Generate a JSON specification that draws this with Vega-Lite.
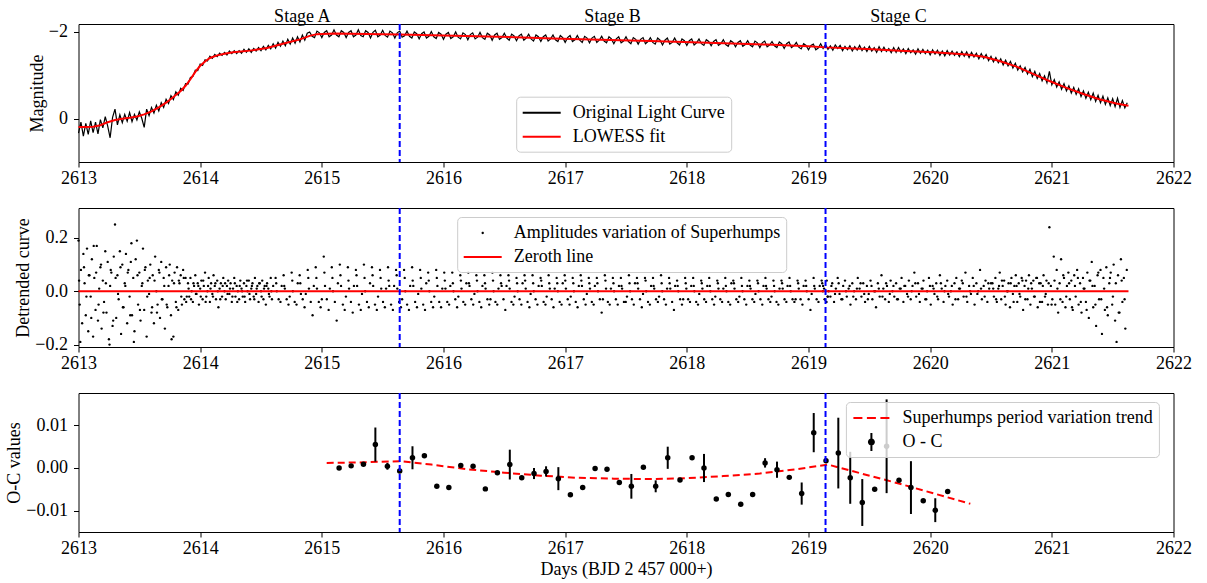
{
  "$schema": "https://vega.github.io/schema/vega-lite/v6.json",
  "background": "white",
  "padding": {"left": 4.5, "top": 7, "right": 5, "bottom": 5},
  "bounds": "flush",
  "spacing": 46,
  "config": {
    "font": "Liberation Serif",
    "view": {"stroke": "black", "strokeWidth": 1},
    "axis": {"grid": false, "domain": false, "tickColor": "black", "tickSize": 5, "tickWidth": 1,
      "labelFont": "Liberation Serif", "labelFontSize": 18, "labelColor": "black",
      "titleFont": "Liberation Serif", "titleFontSize": 18, "titleFontWeight": "normal", "titleColor": "black",
      "labelFlush": false, "labelOverlap": false, "labelBound": false},
    "axisX": {"labelPadding": 2, "titlePadding": 3},
    "axisY": {"labelPadding": 6, "titlePadding": 2},
    "legend": {"orient": "none", "title": null, "symbolSize": 400, "symbolStrokeWidth": 0, "padding": 6, "rowPadding": 5,
      "symbolOffset": 9.5, "labelOffset": 21, "fillColor": "rgba(255,255,255,0.8)", "strokeColor": "#cccccc",
      "cornerRadius": 4, "labelFont": "Liberation Serif", "labelFontSize": 18, "labelColor": "black", "labelLimit": 400}
  },
  "resolve": {
    "scale": {"x": "independent", "y": "independent", "color": "independent", "shape": "independent"},
    "legend": {"color": "independent", "shape": "independent"}
  },
  "datasets": {
    "stages": [{"t": 2615.64}, {"t": 2619.14}],
    "stageLabels": [{"stage": "Stage A", "t": 2614.84}, {"stage": "Stage B", "t": 2617.39}, {"stage": "Stage C", "t": 2619.74}],
    "zero": [{"t0": 2613, "t1": 2621.63, "d": 0}],
    "fit": [
      {"t":2613.00,"m":0.19},{"t":2613.06,"m":0.19},{"t":2613.12,"m":0.185},{"t":2613.18,"m":0.15},{"t":2613.24,"m":0.08},
      {"t":2613.30,"m":0.03},{"t":2613.36,"m":0.0},{"t":2613.42,"m":-0.02},{"t":2613.48,"m":-0.05},{"t":2613.54,"m":-0.10},
      {"t":2613.60,"m":-0.17},{"t":2613.66,"m":-0.26},{"t":2613.72,"m":-0.37},{"t":2613.78,"m":-0.50},{"t":2613.84,"m":-0.64},
      {"t":2613.88,"m":-0.76},{"t":2613.92,"m":-0.91},{"t":2613.96,"m":-1.08},{"t":2614.00,"m":-1.22},{"t":2614.04,"m":-1.32},
      {"t":2614.08,"m":-1.40},{"t":2614.14,"m":-1.46},{"t":2614.20,"m":-1.50},{"t":2614.27,"m":-1.53},{"t":2614.41,"m":-1.57},
      {"t":2614.55,"m":-1.63},{"t":2614.68,"m":-1.73},{"t":2614.82,"m":-1.83},{"t":2614.90,"m":-1.91},{"t":2614.96,"m":-1.95},
      {"t":2615.10,"m":-1.965},{"t":2615.37,"m":-1.955},{"t":2615.64,"m":-1.94},{"t":2616.00,"m":-1.92},{"t":2616.46,"m":-1.89},
      {"t":2616.90,"m":-1.85},{"t":2617.29,"m":-1.82},{"t":2617.70,"m":-1.79},{"t":2618.11,"m":-1.76},{"t":2618.66,"m":-1.71},
      {"t":2619.00,"m":-1.67},{"t":2619.14,"m":-1.645},{"t":2619.48,"m":-1.61},{"t":2619.75,"m":-1.57},{"t":2620.03,"m":-1.53},
      {"t":2620.30,"m":-1.48},{"t":2620.44,"m":-1.43},{"t":2620.57,"m":-1.33},{"t":2620.71,"m":-1.20},{"t":2620.85,"m":-1.03},
      {"t":2620.98,"m":-0.87},{"t":2621.12,"m":-0.71},{"t":2621.26,"m":-0.57},{"t":2621.39,"m":-0.45},{"t":2621.53,"m":-0.35},
      {"t":2621.63,"m":-0.30}
    ],
    "lc": [
      {"t":2613.00,"m":0.33},{"t":2613.02,"m":0.08},{"t":2613.04,"m":0.40},{"t":2613.06,"m":0.11},{"t":2613.08,"m":0.36},
      {"t":2613.10,"m":0.05},{"t":2613.12,"m":0.32},{"t":2613.14,"m":0.08},{"t":2613.16,"m":0.35},{"t":2613.18,"m":0.02},
      {"t":2613.20,"m":0.21},{"t":2613.22,"m":-0.05},{"t":2613.24,"m":0.17},{"t":2613.26,"m":0.44},{"t":2613.28,"m":-0.03},
      {"t":2613.30,"m":-0.22},{"t":2613.32,"m":0.14},{"t":2613.34,"m":-0.09},{"t":2613.36,"m":0.09},{"t":2613.38,"m":-0.10},
      {"t":2613.40,"m":0.06},{"t":2613.42,"m":-0.14},{"t":2613.44,"m":0.07},{"t":2613.46,"m":-0.10},{"t":2613.48,"m":0.03},
      {"t":2613.50,"m":-0.16},{"t":2613.52,"m":-0.01},{"t":2613.54,"m":0.20},{"t":2613.56,"m":-0.22},{"t":2613.58,"m":-0.07},
      {"t":2613.60,"m":-0.26},{"t":2613.62,"m":-0.13},{"t":2613.64,"m":-0.31},{"t":2613.66,"m":-0.18},{"t":2613.68,"m":-0.37},
      {"t":2613.70,"m":-0.26},{"t":2613.72,"m":-0.45},{"t":2613.74,"m":-0.35},{"t":2613.76,"m":-0.53},{"t":2613.78,"m":-0.44},
      {"t":2613.80,"m":-0.62},{"t":2613.82,"m":-0.54},{"t":2613.84,"m":-0.70},{"t":2613.86,"m":-0.65},{"t":2613.88,"m":-0.81},
      {"t":2613.90,"m":-0.80},{"t":2613.92,"m":-0.95},{"t":2613.94,"m":-0.97},{"t":2613.96,"m":-1.12},{"t":2613.98,"m":-1.11},
      {"t":2614.00,"m":-1.26},{"t":2614.02,"m":-1.23},{"t":2614.04,"m":-1.36},{"t":2614.06,"m":-1.33},{"t":2614.08,"m":-1.44},
      {"t":2614.10,"m":-1.39},{"t":2614.12,"m":-1.48},{"t":2614.14,"m":-1.43},{"t":2614.16,"m":-1.51},{"t":2614.18,"m":-1.46},
      {"t":2614.20,"m":-1.53},{"t":2614.22,"m":-1.47},{"t":2614.24,"m":-1.56},{"t":2614.26,"m":-1.50},{"t":2614.28,"m":-1.57},
      {"t":2614.30,"m":-1.50},{"t":2614.32,"m":-1.57},{"t":2614.34,"m":-1.51},{"t":2614.36,"m":-1.60},{"t":2614.38,"m":-1.53},
      {"t":2614.40,"m":-1.61},{"t":2614.42,"m":-1.53},{"t":2614.44,"m":-1.62},{"t":2614.46,"m":-1.56},{"t":2614.48,"m":-1.64},
      {"t":2614.50,"m":-1.57},{"t":2614.52,"m":-1.67},{"t":2614.54,"m":-1.59},{"t":2614.56,"m":-1.69},{"t":2614.58,"m":-1.61},
      {"t":2614.60,"m":-1.73},{"t":2614.62,"m":-1.63},{"t":2614.64,"m":-1.76},{"t":2614.66,"m":-1.67},{"t":2614.68,"m":-1.79},
      {"t":2614.70,"m":-1.68},{"t":2614.72,"m":-1.83},{"t":2614.74,"m":-1.72},{"t":2614.76,"m":-1.86},{"t":2614.78,"m":-1.74},
      {"t":2614.80,"m":-1.89},{"t":2614.82,"m":-1.77},{"t":2614.84,"m":-1.93},{"t":2614.86,"m":-1.81},{"t":2614.88,"m":-1.97},
      {"t":2614.90,"m":-2.00},{"t":2614.92,"m":-1.90},{"t":2614.94,"m":-1.87},{"t":2614.96,"m":-2.02},{"t":2614.98,"m":-1.98},
      {"t":2615.00,"m":-1.87},{"t":2615.02,"m":-1.99},{"t":2615.04,"m":-2.03},{"t":2615.06,"m":-1.89},{"t":2615.08,"m":-1.93},
      {"t":2615.10,"m":-2.05},{"t":2615.12,"m":-1.93},{"t":2615.14,"m":-1.89},{"t":2615.16,"m":-2.03},{"t":2615.18,"m":-1.99},
      {"t":2615.20,"m":-1.87},{"t":2615.22,"m":-1.99},{"t":2615.24,"m":-2.03},{"t":2615.26,"m":-1.89},{"t":2615.28,"m":-1.93},
      {"t":2615.30,"m":-2.05},{"t":2615.32,"m":-1.92},{"t":2615.34,"m":-1.89},{"t":2615.36,"m":-2.03},{"t":2615.38,"m":-1.99},
      {"t":2615.40,"m":-1.86},{"t":2615.42,"m":-1.99},{"t":2615.44,"m":-2.04},{"t":2615.46,"m":-1.89},{"t":2615.48,"m":-1.93},
      {"t":2615.50,"m":-2.04},{"t":2615.52,"m":-1.92},{"t":2615.54,"m":-1.88},{"t":2615.56,"m":-2.02},{"t":2615.58,"m":-1.98},
      {"t":2615.60,"m":-1.86},{"t":2615.62,"m":-1.98},{"t":2615.64,"m":-2.02},{"t":2615.66,"m":-1.88},{"t":2615.68,"m":-1.91},
      {"t":2615.70,"m":-2.02},{"t":2615.72,"m":-1.90},{"t":2615.74,"m":-1.86},{"t":2615.76,"m":-2.00},{"t":2615.78,"m":-1.96},
      {"t":2615.80,"m":-1.84},{"t":2615.82,"m":-1.96},{"t":2615.84,"m":-2.00},{"t":2615.86,"m":-1.86},{"t":2615.88,"m":-1.90},
      {"t":2615.90,"m":-2.01},{"t":2615.92,"m":-1.89},{"t":2615.94,"m":-1.85},{"t":2615.96,"m":-1.99},{"t":2615.98,"m":-1.95},
      {"t":2616.00,"m":-1.83},{"t":2616.02,"m":-1.95},{"t":2616.04,"m":-1.99},{"t":2616.06,"m":-1.85},{"t":2616.08,"m":-1.89},
      {"t":2616.10,"m":-2.00},{"t":2616.12,"m":-1.88},{"t":2616.14,"m":-1.84},{"t":2616.16,"m":-1.98},{"t":2616.18,"m":-1.94},
      {"t":2616.20,"m":-1.82},{"t":2616.22,"m":-1.94},{"t":2616.24,"m":-1.98},{"t":2616.26,"m":-1.84},{"t":2616.28,"m":-1.88},
      {"t":2616.30,"m":-1.99},{"t":2616.32,"m":-1.87},{"t":2616.34,"m":-1.83},{"t":2616.36,"m":-1.97},{"t":2616.38,"m":-1.93},
      {"t":2616.40,"m":-1.81},{"t":2616.42,"m":-1.93},{"t":2616.44,"m":-1.97},{"t":2616.46,"m":-1.83},{"t":2616.48,"m":-1.87},
      {"t":2616.50,"m":-1.97},{"t":2616.52,"m":-1.86},{"t":2616.54,"m":-1.81},{"t":2616.56,"m":-1.95},{"t":2616.58,"m":-1.91},
      {"t":2616.60,"m":-1.80},{"t":2616.62,"m":-1.91},{"t":2616.64,"m":-1.95},{"t":2616.66,"m":-1.81},{"t":2616.68,"m":-1.86},
      {"t":2616.70,"m":-1.95},{"t":2616.72,"m":-1.84},{"t":2616.74,"m":-1.79},{"t":2616.76,"m":-1.93},{"t":2616.78,"m":-1.89},
      {"t":2616.80,"m":-1.78},{"t":2616.82,"m":-1.89},{"t":2616.84,"m":-1.93},{"t":2616.86,"m":-1.79},{"t":2616.88,"m":-1.84},
      {"t":2616.90,"m":-1.93},{"t":2616.92,"m":-1.82},{"t":2616.94,"m":-1.78},{"t":2616.96,"m":-1.92},{"t":2616.98,"m":-1.87},
      {"t":2617.00,"m":-1.76},{"t":2617.02,"m":-1.87},{"t":2617.04,"m":-1.92},{"t":2617.06,"m":-1.78},{"t":2617.08,"m":-1.82},
      {"t":2617.10,"m":-1.92},{"t":2617.12,"m":-1.81},{"t":2617.14,"m":-1.76},{"t":2617.16,"m":-1.90},{"t":2617.18,"m":-1.86},
      {"t":2617.20,"m":-1.75},{"t":2617.22,"m":-1.86},{"t":2617.24,"m":-1.90},{"t":2617.26,"m":-1.76},{"t":2617.28,"m":-1.81},
      {"t":2617.30,"m":-1.90},{"t":2617.32,"m":-1.79},{"t":2617.34,"m":-1.75},{"t":2617.36,"m":-1.89},{"t":2617.38,"m":-1.84},
      {"t":2617.40,"m":-1.73},{"t":2617.42,"m":-1.84},{"t":2617.44,"m":-1.89},{"t":2617.46,"m":-1.75},{"t":2617.48,"m":-1.79},
      {"t":2617.50,"m":-1.89},{"t":2617.52,"m":-1.78},{"t":2617.54,"m":-1.73},{"t":2617.56,"m":-1.87},{"t":2617.58,"m":-1.83},
      {"t":2617.60,"m":-1.72},{"t":2617.62,"m":-1.83},{"t":2617.64,"m":-1.87},{"t":2617.66,"m":-1.73},{"t":2617.68,"m":-1.78},
      {"t":2617.70,"m":-1.87},{"t":2617.72,"m":-1.76},{"t":2617.74,"m":-1.72},{"t":2617.76,"m":-1.86},{"t":2617.78,"m":-1.81},
      {"t":2617.80,"m":-1.70},{"t":2617.82,"m":-1.81},{"t":2617.84,"m":-1.86},{"t":2617.86,"m":-1.72},{"t":2617.88,"m":-1.76},
      {"t":2617.90,"m":-1.86},{"t":2617.92,"m":-1.75},{"t":2617.94,"m":-1.70},{"t":2617.96,"m":-1.84},{"t":2617.98,"m":-1.80},
      {"t":2618.00,"m":-1.69},{"t":2618.02,"m":-1.80},{"t":2618.04,"m":-1.84},{"t":2618.06,"m":-1.70},{"t":2618.08,"m":-1.75},
      {"t":2618.10,"m":-1.84},{"t":2618.12,"m":-1.73},{"t":2618.14,"m":-1.69},{"t":2618.16,"m":-1.82},{"t":2618.18,"m":-1.78},
      {"t":2618.20,"m":-1.68},{"t":2618.22,"m":-1.78},{"t":2618.24,"m":-1.82},{"t":2618.26,"m":-1.69},{"t":2618.28,"m":-1.73},
      {"t":2618.30,"m":-1.82},{"t":2618.32,"m":-1.71},{"t":2618.34,"m":-1.67},{"t":2618.36,"m":-1.80},{"t":2618.38,"m":-1.76},
      {"t":2618.40,"m":-1.66},{"t":2618.42,"m":-1.76},{"t":2618.44,"m":-1.80},{"t":2618.46,"m":-1.67},{"t":2618.48,"m":-1.71},
      {"t":2618.50,"m":-1.80},{"t":2618.52,"m":-1.70},{"t":2618.54,"m":-1.66},{"t":2618.56,"m":-1.79},{"t":2618.58,"m":-1.75},
      {"t":2618.60,"m":-1.64},{"t":2618.62,"m":-1.75},{"t":2618.64,"m":-1.79},{"t":2618.66,"m":-1.66},{"t":2618.68,"m":-1.70},
      {"t":2618.70,"m":-1.78},{"t":2618.72,"m":-1.68},{"t":2618.74,"m":-1.64},{"t":2618.76,"m":-1.77},{"t":2618.78,"m":-1.73},
      {"t":2618.80,"m":-1.62},{"t":2618.82,"m":-1.73},{"t":2618.84,"m":-1.77},{"t":2618.86,"m":-1.64},{"t":2618.88,"m":-1.68},
      {"t":2618.90,"m":-1.76},{"t":2618.92,"m":-1.65},{"t":2618.94,"m":-1.61},{"t":2618.96,"m":-1.73},{"t":2618.98,"m":-1.69},
      {"t":2619.00,"m":-1.59},{"t":2619.02,"m":-1.69},{"t":2619.04,"m":-1.72},{"t":2619.06,"m":-1.59},{"t":2619.08,"m":-1.63},
      {"t":2619.10,"m":-1.73},{"t":2619.12,"m":-1.62},{"t":2619.14,"m":-1.71},{"t":2619.16,"m":-1.60},{"t":2619.18,"m":-1.68},
      {"t":2619.20,"m":-1.58},{"t":2619.22,"m":-1.70},{"t":2619.24,"m":-1.62},{"t":2619.26,"m":-1.69},{"t":2619.28,"m":-1.57},
      {"t":2619.30,"m":-1.67},{"t":2619.32,"m":-1.59},{"t":2619.34,"m":-1.68},{"t":2619.36,"m":-1.56},{"t":2619.38,"m":-1.66},
      {"t":2619.40,"m":-1.58},{"t":2619.42,"m":-1.69},{"t":2619.44,"m":-1.57},{"t":2619.46,"m":-1.65},{"t":2619.48,"m":-1.55},
      {"t":2619.50,"m":-1.67},{"t":2619.52,"m":-1.56},{"t":2619.54,"m":-1.64},{"t":2619.56,"m":-1.53},{"t":2619.58,"m":-1.66},
      {"t":2619.60,"m":-1.55},{"t":2619.62,"m":-1.65},{"t":2619.64,"m":-1.55},{"t":2619.66,"m":-1.62},{"t":2619.68,"m":-1.52},
      {"t":2619.70,"m":-1.64},{"t":2619.72,"m":-1.53},{"t":2619.74,"m":-1.64},{"t":2619.76,"m":-1.53},{"t":2619.78,"m":-1.61},
      {"t":2619.80,"m":-1.50},{"t":2619.82,"m":-1.62},{"t":2619.84,"m":-1.52},{"t":2619.86,"m":-1.59},{"t":2619.88,"m":-1.49},
      {"t":2619.90,"m":-1.61},{"t":2619.92,"m":-1.51},{"t":2619.94,"m":-1.60},{"t":2619.96,"m":-1.50},{"t":2619.98,"m":-1.58},
      {"t":2620.00,"m":-1.47},{"t":2620.02,"m":-1.59},{"t":2620.04,"m":-1.49},{"t":2620.06,"m":-1.58},{"t":2620.08,"m":-1.46},
      {"t":2620.10,"m":-1.56},{"t":2620.12,"m":-1.45},{"t":2620.14,"m":-1.57},{"t":2620.16,"m":-1.47},{"t":2620.18,"m":-1.56},
      {"t":2620.20,"m":-1.46},{"t":2620.22,"m":-1.54},{"t":2620.24,"m":-1.43},{"t":2620.26,"m":-1.55},{"t":2620.28,"m":-1.44},
      {"t":2620.30,"m":-1.54},{"t":2620.32,"m":-1.41},{"t":2620.34,"m":-1.53},{"t":2620.36,"m":-1.42},{"t":2620.38,"m":-1.51},
      {"t":2620.40,"m":-1.38},{"t":2620.42,"m":-1.50},{"t":2620.44,"m":-1.39},{"t":2620.46,"m":-1.48},{"t":2620.48,"m":-1.34},
      {"t":2620.50,"m":-1.44},{"t":2620.52,"m":-1.31},{"t":2620.54,"m":-1.41},{"t":2620.56,"m":-1.29},{"t":2620.58,"m":-1.38},
      {"t":2620.60,"m":-1.24},{"t":2620.62,"m":-1.35},{"t":2620.64,"m":-1.22},{"t":2620.66,"m":-1.32},{"t":2620.68,"m":-1.17},
      {"t":2620.70,"m":-1.28},{"t":2620.72,"m":-1.12},{"t":2620.74,"m":-1.22},{"t":2620.76,"m":-1.08},{"t":2620.78,"m":-1.18},
      {"t":2620.80,"m":-1.03},{"t":2620.82,"m":-1.14},{"t":2620.84,"m":-0.97},{"t":2620.86,"m":-1.09},{"t":2620.88,"m":-0.93},
      {"t":2620.90,"m":-1.04},{"t":2620.92,"m":-0.87},{"t":2620.94,"m":-0.99},{"t":2620.96,"m":-0.83},{"t":2620.98,"m":-1.09},
      {"t":2621.00,"m":-0.78},{"t":2621.02,"m":-0.90},{"t":2621.04,"m":-0.73},{"t":2621.06,"m":-0.85},{"t":2621.08,"m":-0.68},
      {"t":2621.10,"m":-0.81},{"t":2621.12,"m":-0.64},{"t":2621.14,"m":-0.76},{"t":2621.16,"m":-0.59},{"t":2621.18,"m":-0.72},
      {"t":2621.20,"m":-0.56},{"t":2621.22,"m":-0.69},{"t":2621.24,"m":-0.51},{"t":2621.26,"m":-0.64},{"t":2621.28,"m":-0.47},
      {"t":2621.30,"m":-0.61},{"t":2621.32,"m":-0.44},{"t":2621.34,"m":-0.59},{"t":2621.36,"m":-0.40},{"t":2621.38,"m":-0.54},
      {"t":2621.40,"m":-0.37},{"t":2621.42,"m":-0.52},{"t":2621.44,"m":-0.33},{"t":2621.46,"m":-0.48},{"t":2621.48,"m":-0.30},
      {"t":2621.50,"m":-0.46},{"t":2621.52,"m":-0.28},{"t":2621.54,"m":-0.47},{"t":2621.56,"m":-0.26},{"t":2621.58,"m":-0.42},
      {"t":2621.60,"m":-0.25},{"t":2621.62,"m":-0.37}
    ],
    "det": [
      {"t":2613.00,"d":0.19},{"t":2613.01,"d":-0.05},{"t":2613.02,"d":0.08},{"t":2613.03,"d":-0.12},{"t":2613.04,"d":0.14},
      {"t":2613.05,"d":0.03},{"t":2613.06,"d":-0.09},{"t":2613.07,"d":0.16},{"t":2613.08,"d":-0.15},{"t":2613.09,"d":0.06},
      {"t":2613.10,"d":-0.02},{"t":2613.11,"d":0.12},{"t":2613.12,"d":-0.17},{"t":2613.13,"d":0.05},{"t":2613.14,"d":-0.07},
      {"t":2613.15,"d":0.17},{"t":2613.16,"d":-0.11},{"t":2613.17,"d":0.01},{"t":2613.18,"d":0.09},{"t":2613.19,"d":-0.14},
      {"t":2613.20,"d":0.04},{"t":2613.21,"d":-0.04},{"t":2613.22,"d":0.15},{"t":2613.23,"d":-0.08},{"t":2613.24,"d":0.11},
      {"t":2613.25,"d":-0.18},{"t":2613.26,"d":0.02},{"t":2613.27,"d":0.07},{"t":2613.28,"d":-0.13},{"t":2613.29,"d":0.13},
      {"t":2613.30,"d":0.25},{"t":2613.31,"d":-0.10},{"t":2613.32,"d":0.06},{"t":2613.33,"d":-0.03},{"t":2613.34,"d":0.15},
      {"t":2613.35,"d":-0.16},{"t":2613.36,"d":0.10},{"t":2613.37,"d":-0.06},{"t":2613.38,"d":0.03},{"t":2613.39,"d":0.14},
      {"t":2613.40,"d":-0.12},{"t":2613.41,"d":0.08},{"t":2613.42,"d":-0.02},{"t":2613.43,"d":0.11},{"t":2613.44,"d":-0.09},
      {"t":2613.45,"d":0.05},{"t":2613.46,"d":-0.15},{"t":2613.47,"d":0.12},{"t":2613.48,"d":0.19},{"t":2613.49,"d":-0.05},
      {"t":2613.50,"d":0.07},{"t":2613.51,"d":-0.11},{"t":2613.52,"d":0.02},{"t":2613.53,"d":0.16},{"t":2613.54,"d":-0.07},
      {"t":2613.55,"d":0.09},{"t":2613.56,"d":-0.17},{"t":2613.57,"d":0.04},{"t":2613.58,"d":-0.01},{"t":2613.59,"d":0.10},
      {"t":2613.60,"d":-0.08},{"t":2613.61,"d":0.06},{"t":2613.62,"d":-0.12},{"t":2613.63,"d":0.13},{"t":2613.64,"d":0.0},
      {"t":2613.65,"d":-0.05},{"t":2613.66,"d":0.08},{"t":2613.67,"d":-0.10},{"t":2613.68,"d":0.11},{"t":2613.69,"d":-0.03},
      {"t":2613.70,"d":0.05},{"t":2613.71,"d":-0.14},{"t":2613.72,"d":0.09},{"t":2613.73,"d":-0.06},{"t":2613.74,"d":0.02},
      {"t":2613.75,"d":0.10},{"t":2613.76,"d":-0.09},{"t":2613.77,"d":0.04},{"t":2613.78,"d":-0.17},{"t":2613.79,"d":0.07},
      {"t":2613.80,"d":-0.04},{"t":2613.81,"d":0.09},{"t":2613.82,"d":-0.07},{"t":2613.83,"d":0.03},{"t":2613.84,"d":0.06},
      {"t":2613.85,"d":-0.05},{"t":2613.86,"d":0.08},{"t":2613.87,"d":-0.03},{"t":2613.88,"d":0.05},{"t":2613.89,"d":-0.02},
      {"t":2613.005,"d":0.04},{"t":2613.015,"d":-0.19},{"t":2613.045,"d":0.09},{"t":2613.065,"d":-0.02},{"t":2613.085,"d":0.06},
      {"t":2613.105,"d":-0.10},{"t":2613.125,"d":0.17},{"t":2613.145,"d":0.07},{"t":2613.165,"d":-0.05},{"t":2613.185,"d":0.10},
      {"t":2613.205,"d":-0.08},{"t":2613.225,"d":0.03},{"t":2613.255,"d":-0.20},{"t":2613.265,"d":0.08},{"t":2613.285,"d":-0.11},
      {"t":2613.305,"d":0.05},{"t":2613.325,"d":-0.01},{"t":2613.345,"d":0.09},{"t":2613.365,"d":-0.06},{"t":2613.385,"d":0.02},
      {"t":2613.405,"d":0.07},{"t":2613.425,"d":-0.09},{"t":2613.435,"d":0.18},{"t":2613.455,"d":-0.19},{"t":2613.485,"d":0.06},
      {"t":2613.505,"d":-0.07},{"t":2613.525,"d":0.03},{"t":2613.545,"d":0.08},{"t":2613.565,"d":-0.02},{"t":2613.585,"d":0.05},
      {"t":2613.605,"d":-0.06},{"t":2613.625,"d":0.04},{"t":2613.645,"d":-0.08},{"t":2613.665,"d":0.07},{"t":2613.685,"d":-0.03},
      {"t":2613.705,"d":0.02},{"t":2613.725,"d":-0.05},{"t":2613.745,"d":0.06},{"t":2613.765,"d":-0.18},{"t":2613.785,"d":0.03},
      {"t":2613.805,"d":-0.06},{"t":2613.825,"d":0.04},{"t":2613.845,"d":-0.02},{"t":2613.865,"d":0.05},{"t":2613.885,"d":-0.04},
      {"t":2613.90,"d":0.03},{"t":2613.91,"d":-0.02},{"t":2613.92,"d":0.05},{"t":2613.93,"d":0.0},{"t":2613.94,"d":-0.04},
      {"t":2613.95,"d":0.02},{"t":2613.96,"d":0.06},{"t":2613.97,"d":-0.01},{"t":2613.98,"d":0.03},{"t":2613.99,"d":-0.05},
      {"t":2614.00,"d":0.01},{"t":2614.01,"d":0.04},{"t":2614.02,"d":-0.03},{"t":2614.03,"d":0.02},{"t":2614.04,"d":0.07},
      {"t":2614.05,"d":-0.02},{"t":2614.06,"d":0.0},{"t":2614.07,"d":0.05},{"t":2614.08,"d":-0.04},{"t":2614.09,"d":0.03},
      {"t":2614.10,"d":-0.01},{"t":2614.11,"d":0.06},{"t":2614.12,"d":0.02},{"t":2614.13,"d":-0.03},{"t":2614.14,"d":0.04},
      {"t":2614.15,"d":-0.06},{"t":2614.16,"d":0.01},{"t":2614.17,"d":0.03},{"t":2614.18,"d":-0.02},{"t":2614.19,"d":0.05},
      {"t":2614.20,"d":0.0},{"t":2614.21,"d":-0.03},{"t":2614.22,"d":0.02},{"t":2614.23,"d":0.04},{"t":2614.24,"d":-0.01},
      {"t":2614.25,"d":0.03},{"t":2614.26,"d":-0.04},{"t":2614.27,"d":0.01},{"t":2614.28,"d":0.05},{"t":2614.29,"d":-0.02},
      {"t":2614.30,"d":0.02},{"t":2614.31,"d":0.0},{"t":2614.32,"d":-0.03},{"t":2614.33,"d":0.04},{"t":2614.34,"d":0.01},
      {"t":2614.35,"d":-0.02},{"t":2614.36,"d":0.03},{"t":2614.37,"d":-0.04},{"t":2614.38,"d":0.02},{"t":2614.39,"d":0.0},
      {"t":2614.40,"d":0.04},{"t":2614.41,"d":-0.03},{"t":2614.42,"d":0.01},{"t":2614.43,"d":0.03},{"t":2614.44,"d":-0.02},
      {"t":2614.45,"d":0.05},{"t":2614.46,"d":-0.01},{"t":2614.47,"d":0.02},{"t":2614.48,"d":-0.04},{"t":2614.49,"d":0.03},
      {"t":2614.50,"d":0.0},{"t":2614.51,"d":0.04},{"t":2614.52,"d":-0.03},{"t":2614.53,"d":0.02},{"t":2614.54,"d":-0.05},
      {"t":2614.55,"d":0.03},{"t":2614.56,"d":0.01},{"t":2614.57,"d":-0.02},{"t":2614.58,"d":0.05},{"t":2614.59,"d":-0.03},
      {"t":2614.60,"d":0.02},
      {"t":2613.905,"d":0.01},{"t":2613.925,"d":-0.03},{"t":2613.945,"d":0.03},{"t":2613.965,"d":-0.01},{"t":2613.985,"d":0.02},
      {"t":2614.005,"d":-0.02},{"t":2614.025,"d":0.04},{"t":2614.045,"d":-0.04},{"t":2614.065,"d":0.02},{"t":2614.085,"d":0.01},
      {"t":2614.105,"d":-0.02},{"t":2614.125,"d":0.03},{"t":2614.145,"d":0.0},{"t":2614.165,"d":-0.03},{"t":2614.185,"d":0.02},
      {"t":2614.205,"d":0.03},{"t":2614.225,"d":-0.01},{"t":2614.245,"d":0.01},{"t":2614.265,"d":-0.02},{"t":2614.285,"d":0.03},
      {"t":2614.305,"d":-0.04},{"t":2614.325,"d":0.02},{"t":2614.345,"d":0.0},{"t":2614.365,"d":-0.02},{"t":2614.385,"d":0.04},
      {"t":2614.405,"d":-0.01},{"t":2614.425,"d":0.02},{"t":2614.445,"d":-0.03},{"t":2614.465,"d":0.01},{"t":2614.485,"d":0.03},
      {"t":2614.505,"d":-0.02},{"t":2614.525,"d":0.01},{"t":2614.545,"d":0.02},{"t":2614.565,"d":-0.01},{"t":2614.585,"d":0.0},
      {"t":2614.62,"d":0.05},{"t":2614.625,"d":0.03},{"t":2614.63,"d":0.0},{"t":2614.645,"d":-0.03},{"t":2614.66,"d":-0.04},
      {"t":2614.686,"d":0.06},{"t":2614.691,"d":0.02},{"t":2614.696,"d":0.01},{"t":2614.711,"d":-0.03},{"t":2614.726,"d":-0.05},
      {"t":2614.752,"d":0.07},{"t":2614.757,"d":0.04},{"t":2614.762,"d":0.0},{"t":2614.777,"d":-0.04},{"t":2614.792,"d":-0.05},
      {"t":2614.818,"d":0.06},{"t":2614.823,"d":0.03},{"t":2614.828,"d":-0.01},{"t":2614.843,"d":-0.03},{"t":2614.858,"d":-0.06},
      {"t":2614.884,"d":0.08},{"t":2614.889,"d":0.05},{"t":2614.894,"d":0.01},{"t":2614.909,"d":-0.04},{"t":2614.924,"d":-0.09},
      {"t":2614.95,"d":0.09},{"t":2614.955,"d":0.05},{"t":2614.96,"d":0.01},{"t":2614.975,"d":-0.04},{"t":2614.99,"d":-0.06},
      {"t":2615.016,"d":0.13},{"t":2615.021,"d":0.07},{"t":2615.026,"d":0.02},{"t":2615.041,"d":-0.03},{"t":2615.056,"d":-0.07},
      {"t":2615.082,"d":0.09},{"t":2615.087,"d":0.05},{"t":2615.092,"d":0.0},{"t":2615.107,"d":-0.04},{"t":2615.122,"d":-0.11},
      {"t":2615.148,"d":0.10},{"t":2615.153,"d":0.06},{"t":2615.158,"d":0.02},{"t":2615.173,"d":-0.05},{"t":2615.188,"d":-0.07},
      {"t":2615.214,"d":0.09},{"t":2615.219,"d":0.04},{"t":2615.224,"d":0.01},{"t":2615.239,"d":-0.04},{"t":2615.254,"d":-0.08},
      {"t":2615.28,"d":0.08},{"t":2615.285,"d":0.06},{"t":2615.29,"d":0.02},{"t":2615.305,"d":-0.05},{"t":2615.32,"d":-0.07},
      {"t":2615.346,"d":0.10},{"t":2615.351,"d":0.05},{"t":2615.356,"d":0.0},{"t":2615.371,"d":-0.04},{"t":2615.386,"d":-0.06},
      {"t":2615.412,"d":0.09},{"t":2615.417,"d":0.06},{"t":2615.422,"d":0.02},{"t":2615.437,"d":-0.05},{"t":2615.452,"d":-0.07},
      {"t":2615.478,"d":0.08},{"t":2615.483,"d":0.05},{"t":2615.488,"d":0.01},{"t":2615.503,"d":-0.04},{"t":2615.518,"d":-0.06},
      {"t":2615.544,"d":0.09},{"t":2615.549,"d":0.04},{"t":2615.554,"d":0.02},{"t":2615.569,"d":-0.05},{"t":2615.584,"d":-0.07},
      {"t":2615.61,"d":0.08},{"t":2615.615,"d":0.06},{"t":2615.62,"d":0.01},{"t":2615.635,"d":-0.04},{"t":2615.65,"d":-0.06},
      {"t":2615.676,"d":0.08},{"t":2615.681,"d":0.05},{"t":2615.686,"d":0.0},{"t":2615.701,"d":-0.05},{"t":2615.716,"d":-0.07},
      {"t":2615.742,"d":0.09},{"t":2615.747,"d":0.04},{"t":2615.752,"d":0.02},{"t":2615.767,"d":-0.04},{"t":2615.782,"d":-0.06},
      {"t":2615.808,"d":0.08},{"t":2615.813,"d":0.05},{"t":2615.818,"d":0.01},{"t":2615.833,"d":-0.05},{"t":2615.848,"d":-0.07},
      {"t":2615.874,"d":0.07},{"t":2615.879,"d":0.04},{"t":2615.884,"d":0.0},{"t":2615.899,"d":-0.04},{"t":2615.914,"d":-0.06},
      {"t":2615.94,"d":0.08},{"t":2615.945,"d":0.05},{"t":2615.95,"d":0.02},{"t":2615.965,"d":-0.04},{"t":2615.98,"d":-0.06},
      {"t":2616.006,"d":0.07},{"t":2616.011,"d":0.04},{"t":2616.016,"d":0.01},{"t":2616.031,"d":-0.04},{"t":2616.046,"d":-0.05},
      {"t":2616.072,"d":0.07},{"t":2616.077,"d":0.03},{"t":2616.082,"d":0.0},{"t":2616.097,"d":-0.03},{"t":2616.112,"d":-0.06},
      {"t":2616.138,"d":0.06},{"t":2616.143,"d":0.04},{"t":2616.148,"d":0.01},{"t":2616.163,"d":-0.04},{"t":2616.178,"d":-0.05},
      {"t":2616.204,"d":0.07},{"t":2616.209,"d":0.03},{"t":2616.214,"d":0.02},{"t":2616.229,"d":-0.03},{"t":2616.244,"d":-0.05},
      {"t":2616.27,"d":0.06},{"t":2616.275,"d":0.04},{"t":2616.28,"d":0.0},{"t":2616.295,"d":-0.04},{"t":2616.31,"d":-0.06},
      {"t":2616.336,"d":0.06},{"t":2616.341,"d":0.03},{"t":2616.346,"d":0.01},{"t":2616.361,"d":-0.03},{"t":2616.376,"d":-0.05},
      {"t":2616.402,"d":0.07},{"t":2616.407,"d":0.04},{"t":2616.412,"d":0.0},{"t":2616.427,"d":-0.04},{"t":2616.442,"d":-0.05},
      {"t":2616.468,"d":0.06},{"t":2616.473,"d":0.03},{"t":2616.478,"d":0.02},{"t":2616.493,"d":-0.03},{"t":2616.508,"d":-0.07},
      {"t":2616.534,"d":0.06},{"t":2616.539,"d":0.04},{"t":2616.544,"d":0.01},{"t":2616.559,"d":-0.04},{"t":2616.574,"d":-0.05},
      {"t":2616.60,"d":0.05},{"t":2616.605,"d":0.03},{"t":2616.61,"d":0.0},{"t":2616.625,"d":-0.03},{"t":2616.64,"d":-0.05},
      {"t":2616.666,"d":0.06},{"t":2616.671,"d":0.04},{"t":2616.676,"d":0.01},{"t":2616.691,"d":-0.04},{"t":2616.706,"d":-0.06},
      {"t":2616.732,"d":0.06},{"t":2616.737,"d":0.03},{"t":2616.742,"d":0.0},{"t":2616.757,"d":-0.03},{"t":2616.772,"d":-0.05},
      {"t":2616.798,"d":0.05},{"t":2616.803,"d":0.04},{"t":2616.808,"d":0.02},{"t":2616.823,"d":-0.04},{"t":2616.838,"d":-0.05},
      {"t":2616.864,"d":0.06},{"t":2616.869,"d":0.03},{"t":2616.874,"d":0.01},{"t":2616.889,"d":-0.03},{"t":2616.904,"d":-0.06},
      {"t":2616.93,"d":0.05},{"t":2616.935,"d":0.03},{"t":2616.94,"d":0.0},{"t":2616.955,"d":-0.04},{"t":2616.97,"d":-0.05},
      {"t":2616.996,"d":0.06},{"t":2617.001,"d":0.04},{"t":2617.006,"d":0.01},{"t":2617.021,"d":-0.03},{"t":2617.036,"d":-0.05},
      {"t":2617.062,"d":0.05},{"t":2617.067,"d":0.03},{"t":2617.072,"d":0.0},{"t":2617.087,"d":-0.04},{"t":2617.102,"d":-0.06},
      {"t":2617.128,"d":0.06},{"t":2617.133,"d":0.04},{"t":2617.138,"d":0.02},{"t":2617.153,"d":-0.03},{"t":2617.168,"d":-0.05},
      {"t":2617.194,"d":0.05},{"t":2617.199,"d":0.03},{"t":2617.204,"d":0.01},{"t":2617.219,"d":-0.04},{"t":2617.234,"d":-0.05},
      {"t":2617.26,"d":0.05},{"t":2617.265,"d":0.03},{"t":2617.27,"d":0.0},{"t":2617.285,"d":-0.03},{"t":2617.30,"d":-0.08},
      {"t":2617.326,"d":0.06},{"t":2617.331,"d":0.04},{"t":2617.336,"d":0.01},{"t":2617.351,"d":-0.04},{"t":2617.366,"d":-0.05},
      {"t":2617.392,"d":0.05},{"t":2617.397,"d":0.03},{"t":2617.402,"d":0.0},{"t":2617.417,"d":-0.03},{"t":2617.432,"d":-0.05},
      {"t":2617.458,"d":0.05},{"t":2617.463,"d":0.02},{"t":2617.468,"d":0.01},{"t":2617.483,"d":-0.04},{"t":2617.498,"d":-0.04},
      {"t":2617.524,"d":0.06},{"t":2617.529,"d":0.03},{"t":2617.534,"d":0.0},{"t":2617.549,"d":-0.03},{"t":2617.564,"d":-0.05},
      {"t":2617.59,"d":0.05},{"t":2617.595,"d":0.03},{"t":2617.60,"d":0.01},{"t":2617.615,"d":-0.03},{"t":2617.63,"d":-0.06},
      {"t":2617.656,"d":0.05},{"t":2617.661,"d":0.04},{"t":2617.666,"d":0.0},{"t":2617.681,"d":-0.04},{"t":2617.696,"d":-0.05},
      {"t":2617.722,"d":0.05},{"t":2617.727,"d":0.02},{"t":2617.732,"d":0.01},{"t":2617.747,"d":-0.03},{"t":2617.762,"d":-0.04},
      {"t":2617.788,"d":0.06},{"t":2617.793,"d":0.03},{"t":2617.798,"d":0.0},{"t":2617.813,"d":-0.03},{"t":2617.828,"d":-0.05},
      {"t":2617.854,"d":0.05},{"t":2617.859,"d":0.03},{"t":2617.864,"d":0.01},{"t":2617.879,"d":-0.04},{"t":2617.894,"d":-0.07},
      {"t":2617.92,"d":0.04},{"t":2617.925,"d":0.02},{"t":2617.93,"d":0.0},{"t":2617.945,"d":-0.03},{"t":2617.96,"d":-0.05},
      {"t":2617.986,"d":0.05},{"t":2617.991,"d":0.03},{"t":2617.996,"d":0.01},{"t":2618.011,"d":-0.03},{"t":2618.026,"d":-0.04},
      {"t":2618.052,"d":0.05},{"t":2618.057,"d":0.02},{"t":2618.062,"d":0.0},{"t":2618.077,"d":-0.04},{"t":2618.092,"d":-0.05},
      {"t":2618.118,"d":0.04},{"t":2618.123,"d":0.03},{"t":2618.128,"d":0.01},{"t":2618.143,"d":-0.03},{"t":2618.158,"d":-0.04},
      {"t":2618.184,"d":0.05},{"t":2618.189,"d":0.02},{"t":2618.194,"d":0.0},{"t":2618.209,"d":-0.03},{"t":2618.224,"d":-0.05},
      {"t":2618.25,"d":0.04},{"t":2618.255,"d":0.03},{"t":2618.26,"d":0.01},{"t":2618.275,"d":-0.03},{"t":2618.29,"d":-0.04},
      {"t":2618.316,"d":0.05},{"t":2618.321,"d":0.02},{"t":2618.326,"d":0.0},{"t":2618.341,"d":-0.04},{"t":2618.356,"d":-0.05},
      {"t":2618.382,"d":0.04},{"t":2618.387,"d":0.03},{"t":2618.392,"d":0.01},{"t":2618.407,"d":-0.03},{"t":2618.422,"d":-0.04},
      {"t":2618.448,"d":0.05},{"t":2618.453,"d":0.02},{"t":2618.458,"d":0.0},{"t":2618.473,"d":-0.03},{"t":2618.488,"d":-0.05},
      {"t":2618.514,"d":0.04},{"t":2618.519,"d":0.02},{"t":2618.524,"d":0.01},{"t":2618.539,"d":-0.03},{"t":2618.554,"d":-0.04},
      {"t":2618.58,"d":0.04},{"t":2618.585,"d":0.03},{"t":2618.59,"d":0.0},{"t":2618.605,"d":-0.03},{"t":2618.62,"d":-0.05},
      {"t":2618.646,"d":0.05},{"t":2618.651,"d":0.02},{"t":2618.656,"d":0.01},{"t":2618.671,"d":-0.03},{"t":2618.686,"d":-0.04},
      {"t":2618.712,"d":0.04},{"t":2618.717,"d":0.02},{"t":2618.722,"d":0.0},{"t":2618.737,"d":-0.04},{"t":2618.752,"d":-0.05},
      {"t":2618.778,"d":0.04},{"t":2618.783,"d":0.03},{"t":2618.788,"d":0.01},{"t":2618.803,"d":-0.03},{"t":2618.818,"d":-0.04},
      {"t":2618.844,"d":0.05},{"t":2618.849,"d":0.02},{"t":2618.854,"d":0.0},{"t":2618.869,"d":-0.03},{"t":2618.884,"d":-0.04},
      {"t":2618.91,"d":0.04},{"t":2618.915,"d":0.03},{"t":2618.92,"d":0.01},{"t":2618.935,"d":-0.03},{"t":2618.95,"d":-0.05},
      {"t":2618.976,"d":0.04},{"t":2618.981,"d":0.02},{"t":2618.986,"d":0.0},{"t":2619.001,"d":-0.03},{"t":2619.016,"d":-0.07},
      {"t":2619.042,"d":0.05},{"t":2619.047,"d":0.02},{"t":2619.052,"d":0.01},{"t":2619.067,"d":-0.03},{"t":2619.082,"d":-0.04},
      {"t":2619.108,"d":0.04},{"t":2619.113,"d":0.03},{"t":2619.118,"d":0.0},{"t":2619.133,"d":-0.03},{"t":2619.148,"d":-0.04},
      {"t":2614.670,"d":0.02},{"t":2614.736,"d":-0.02},{"t":2614.802,"d":0.03},{"t":2614.868,"d":-0.01},{"t":2614.934,"d":0.02},
      {"t":2615.000,"d":-0.03},{"t":2615.066,"d":0.01},{"t":2615.132,"d":0.03},{"t":2615.198,"d":-0.02},{"t":2615.264,"d":0.02},
      {"t":2615.330,"d":-0.01},{"t":2615.396,"d":0.03},{"t":2615.462,"d":-0.02},{"t":2615.528,"d":0.01},{"t":2615.594,"d":0.02},
      {"t":2615.660,"d":-0.03},{"t":2615.726,"d":0.02},{"t":2615.792,"d":-0.01},{"t":2615.858,"d":0.03},{"t":2615.924,"d":-0.02},
      {"t":2615.990,"d":0.01},{"t":2616.056,"d":0.02},{"t":2616.122,"d":-0.02},{"t":2616.188,"d":0.03},{"t":2616.254,"d":-0.01},
      {"t":2616.320,"d":0.02},{"t":2616.386,"d":-0.03},{"t":2616.452,"d":0.01},{"t":2616.518,"d":0.02},{"t":2616.584,"d":-0.02},
      {"t":2616.650,"d":0.03},{"t":2616.716,"d":-0.01},{"t":2616.782,"d":0.02},{"t":2616.848,"d":-0.02},{"t":2616.914,"d":0.01},
      {"t":2616.980,"d":0.03},{"t":2617.046,"d":-0.02},{"t":2617.112,"d":0.02},{"t":2617.178,"d":-0.01},{"t":2617.244,"d":0.02},
      {"t":2617.310,"d":-0.03},{"t":2617.376,"d":0.01},{"t":2617.442,"d":0.02},{"t":2617.508,"d":-0.02},{"t":2617.574,"d":0.03},
      {"t":2617.640,"d":-0.01},{"t":2617.706,"d":0.02},{"t":2617.772,"d":-0.02},{"t":2617.838,"d":0.01},{"t":2617.904,"d":0.02},
      {"t":2617.970,"d":-0.03},{"t":2618.036,"d":0.02},{"t":2618.102,"d":-0.01},{"t":2618.168,"d":0.02},{"t":2618.234,"d":-0.02},
      {"t":2618.300,"d":0.01},{"t":2618.366,"d":0.03},{"t":2618.432,"d":-0.02},{"t":2618.498,"d":0.02},{"t":2618.564,"d":-0.01},
      {"t":2618.630,"d":0.02},{"t":2618.696,"d":-0.02},{"t":2618.762,"d":0.01},{"t":2618.828,"d":0.02},{"t":2618.894,"d":-0.03},
      {"t":2618.960,"d":0.02},{"t":2619.026,"d":-0.01},{"t":2619.092,"d":0.02},{"t":2619.158,"d":-0.02},
      {"t":2619.12,"d":0.02},{"t":2619.135,"d":-0.03},{"t":2619.15,"d":0.04},{"t":2619.165,"d":0.0},{"t":2619.18,"d":-0.02},
      {"t":2619.195,"d":0.03},{"t":2619.21,"d":-0.04},{"t":2619.225,"d":0.01},{"t":2619.24,"d":0.05},{"t":2619.255,"d":-0.01},
      {"t":2619.27,"d":-0.03},{"t":2619.285,"d":0.02},{"t":2619.30,"d":0.04},{"t":2619.315,"d":-0.02},{"t":2619.33,"d":0.01},
      {"t":2619.345,"d":-0.05},{"t":2619.36,"d":0.03},{"t":2619.375,"d":0.0},{"t":2619.39,"d":-0.03},{"t":2619.405,"d":0.05},
      {"t":2619.42,"d":0.01},{"t":2619.435,"d":-0.02},{"t":2619.45,"d":0.03},{"t":2619.465,"d":-0.04},{"t":2619.48,"d":0.02},
      {"t":2619.495,"d":-0.01},{"t":2619.51,"d":0.04},{"t":2619.525,"d":-0.03},{"t":2619.54,"d":0.0},{"t":2619.555,"d":-0.06},
      {"t":2619.57,"d":0.03},{"t":2619.585,"d":-0.02},{"t":2619.60,"d":0.06},{"t":2619.615,"d":0.01},{"t":2619.63,"d":-0.03},
      {"t":2619.645,"d":0.02},{"t":2619.66,"d":-0.04},{"t":2619.675,"d":0.04},{"t":2619.69,"d":0.0},{"t":2619.705,"d":-0.02},
      {"t":2619.72,"d":0.03},{"t":2619.735,"d":-0.03},{"t":2619.75,"d":0.01},{"t":2619.765,"d":0.05},{"t":2619.78,"d":-0.04},
      {"t":2619.795,"d":0.02},{"t":2619.81,"d":-0.01},{"t":2619.825,"d":0.04},{"t":2619.84,"d":-0.03},{"t":2619.855,"d":0.02},
      {"t":2619.87,"d":0.07},{"t":2619.885,"d":-0.02},{"t":2619.90,"d":0.03},{"t":2619.915,"d":-0.04},{"t":2619.93,"d":0.01},
      {"t":2619.945,"d":0.04},{"t":2619.96,"d":-0.03},{"t":2619.975,"d":0.0},{"t":2619.99,"d":0.05},{"t":2620.005,"d":-0.05},
      {"t":2620.02,"d":0.02},{"t":2620.035,"d":-0.01},{"t":2620.05,"d":0.03},{"t":2620.065,"d":-0.03},{"t":2620.08,"d":0.06},
      {"t":2620.095,"d":0.01},{"t":2620.11,"d":-0.04},{"t":2620.125,"d":0.02},{"t":2620.14,"d":0.04},{"t":2620.155,"d":-0.02},
      {"t":2620.17,"d":0.0},{"t":2620.185,"d":-0.05},{"t":2620.20,"d":0.03},{"t":2620.215,"d":0.05},{"t":2620.23,"d":-0.03},
      {"t":2620.245,"d":0.01},{"t":2620.26,"d":0.04},{"t":2620.275,"d":-0.02},{"t":2620.29,"d":0.07},{"t":2620.305,"d":-0.04},
      {"t":2620.32,"d":0.02},{"t":2620.335,"d":-0.01},{"t":2620.35,"d":0.05},{"t":2620.365,"d":-0.05},{"t":2620.38,"d":0.03},
      {"t":2620.395,"d":0.0},{"t":2620.41,"d":0.08},{"t":2620.425,"d":-0.03},{"t":2620.44,"d":0.02},{"t":2620.455,"d":0.04},
      {"t":2620.47,"d":-0.04},{"t":2620.485,"d":0.01},{"t":2620.50,"d":0.03},
      {"t":2619.128,"d":0.01},{"t":2619.158,"d":-0.02},{"t":2619.188,"d":0.02},{"t":2619.218,"d":-0.01},{"t":2619.248,"d":0.03},
      {"t":2619.278,"d":-0.03},{"t":2619.308,"d":0.0},{"t":2619.338,"d":0.02},{"t":2619.368,"d":-0.02},{"t":2619.398,"d":0.01},
      {"t":2619.428,"d":0.03},{"t":2619.458,"d":-0.01},{"t":2619.488,"d":-0.03},{"t":2619.518,"d":0.02},{"t":2619.548,"d":0.0},
      {"t":2619.578,"d":0.01},{"t":2619.608,"d":-0.02},{"t":2619.638,"d":0.03},{"t":2619.668,"d":-0.01},{"t":2619.698,"d":0.02},
      {"t":2619.728,"d":-0.03},{"t":2619.758,"d":0.01},{"t":2619.788,"d":0.02},{"t":2619.818,"d":-0.02},{"t":2619.848,"d":0.0},
      {"t":2619.878,"d":0.03},{"t":2619.908,"d":-0.01},{"t":2619.938,"d":0.01},{"t":2619.968,"d":-0.03},{"t":2619.998,"d":0.02},
      {"t":2620.028,"d":0.01},{"t":2620.058,"d":-0.02},{"t":2620.088,"d":0.03},{"t":2620.118,"d":0.0},{"t":2620.148,"d":-0.01},
      {"t":2620.178,"d":0.02},{"t":2620.208,"d":-0.03},{"t":2620.238,"d":0.01},{"t":2620.268,"d":0.03},{"t":2620.298,"d":-0.02},
      {"t":2620.328,"d":0.0},{"t":2620.358,"d":0.02},{"t":2620.388,"d":-0.01},{"t":2620.418,"d":0.01},{"t":2620.448,"d":-0.02},
      {"t":2620.478,"d":0.03},
      {"t":2620.512,"d":0.03},{"t":2620.524,"d":-0.02},{"t":2620.536,"d":0.05},{"t":2620.548,"d":-0.04},{"t":2620.56,"d":0.01},
      {"t":2620.572,"d":0.07},{"t":2620.584,"d":-0.03},{"t":2620.596,"d":0.02},{"t":2620.608,"d":0.04},{"t":2620.62,"d":-0.05},
      {"t":2620.632,"d":0.0},{"t":2620.644,"d":0.03},{"t":2620.656,"d":-0.06},{"t":2620.668,"d":0.05},{"t":2620.68,"d":-0.01},
      {"t":2620.692,"d":0.02},{"t":2620.704,"d":0.06},{"t":2620.716,"d":-0.04},{"t":2620.728,"d":0.03},{"t":2620.74,"d":-0.02},
      {"t":2620.752,"d":0.05},{"t":2620.764,"d":-0.07},{"t":2620.776,"d":0.02},{"t":2620.788,"d":0.04},{"t":2620.80,"d":-0.03},
      {"t":2620.812,"d":0.06},{"t":2620.824,"d":-0.05},{"t":2620.836,"d":0.01},{"t":2620.848,"d":0.04},{"t":2620.86,"d":-0.02},
      {"t":2620.872,"d":0.05},{"t":2620.884,"d":-0.06},{"t":2620.896,"d":0.03},{"t":2620.908,"d":0.03},{"t":2620.92,"d":-0.04},
      {"t":2620.932,"d":0.06},{"t":2620.944,"d":-0.02},{"t":2620.956,"d":0.04},{"t":2620.968,"d":-0.05},{"t":2620.98,"d":0.24},
      {"t":2620.992,"d":0.02},{"t":2621.004,"d":-0.03},{"t":2621.016,"d":0.13},{"t":2621.028,"d":-0.05},{"t":2621.04,"d":0.08},
      {"t":2621.052,"d":-0.08},{"t":2621.064,"d":0.03},{"t":2621.076,"d":0.12},{"t":2621.088,"d":-0.04},{"t":2621.10,"d":0.05},
      {"t":2621.112,"d":-0.06},{"t":2621.124,"d":0.02},{"t":2621.136,"d":0.07},{"t":2621.148,"d":-0.03},{"t":2621.16,"d":0.04},
      {"t":2621.172,"d":-0.07},{"t":2621.184,"d":0.06},{"t":2621.196,"d":-0.02},{"t":2621.208,"d":0.08},{"t":2621.22,"d":-0.05},
      {"t":2621.232,"d":0.03},{"t":2621.244,"d":-0.08},{"t":2621.256,"d":0.05},{"t":2621.268,"d":0.01},{"t":2621.28,"d":-0.04},
      {"t":2621.292,"d":0.07},{"t":2621.304,"d":-0.10},{"t":2621.316,"d":0.04},{"t":2621.328,"d":0.11},{"t":2621.34,"d":-0.06},
      {"t":2621.352,"d":0.02},{"t":2621.364,"d":-0.13},{"t":2621.376,"d":0.06},{"t":2621.388,"d":-0.03},{"t":2621.40,"d":0.08},
      {"t":2621.412,"d":-0.16},{"t":2621.424,"d":0.05},{"t":2621.436,"d":-0.07},{"t":2621.448,"d":0.09},{"t":2621.46,"d":-0.09},
      {"t":2621.472,"d":0.03},{"t":2621.484,"d":0.07},{"t":2621.496,"d":-0.05},{"t":2621.508,"d":0.10},{"t":2621.52,"d":-0.11},
      {"t":2621.532,"d":-0.19},{"t":2621.544,"d":0.06},{"t":2621.556,"d":-0.08},{"t":2621.568,"d":0.12},{"t":2621.58,"d":-0.04},
      {"t":2621.592,"d":0.05},{"t":2621.604,"d":-0.14},{"t":2621.616,"d":0.08},
      {"t":2620.518,"d":0.01},{"t":2620.542,"d":-0.03},{"t":2620.566,"d":0.02},{"t":2620.59,"d":0.04},{"t":2620.614,"d":-0.02},
      {"t":2620.638,"d":0.0},{"t":2620.662,"d":0.03},{"t":2620.686,"d":-0.04},{"t":2620.71,"d":0.02},{"t":2620.734,"d":-0.01},
      {"t":2620.758,"d":0.04},{"t":2620.782,"d":-0.03},{"t":2620.806,"d":0.01},{"t":2620.83,"d":0.03},{"t":2620.854,"d":-0.02},
      {"t":2620.878,"d":0.05},{"t":2620.902,"d":-0.04},{"t":2620.926,"d":0.02},{"t":2620.95,"d":-0.01},{"t":2620.974,"d":0.03},
      {"t":2620.998,"d":-0.05},{"t":2621.022,"d":0.04},{"t":2621.046,"d":0.01},{"t":2621.07,"d":-0.03},{"t":2621.094,"d":0.06},
      {"t":2621.118,"d":-0.02},{"t":2621.142,"d":0.03},{"t":2621.166,"d":-0.06},{"t":2621.19,"d":0.02},{"t":2621.214,"d":0.05},
      {"t":2621.238,"d":-0.04},{"t":2621.262,"d":0.01},{"t":2621.286,"d":-0.07},{"t":2621.31,"d":0.04},{"t":2621.334,"d":0.02},
      {"t":2621.358,"d":-0.05},{"t":2621.382,"d":0.07},{"t":2621.406,"d":-0.03},{"t":2621.43,"d":0.01},{"t":2621.454,"d":-0.06},
      {"t":2621.478,"d":0.05},{"t":2621.502,"d":-0.02},{"t":2621.526,"d":0.03},{"t":2621.55,"d":-0.08},{"t":2621.574,"d":0.04},
      {"t":2621.598,"d":-0.03}
    ],
    "oc": [
      {"t":2615.142,"oc":0.0000,"err":0.0003},{"t":2615.241,"oc":0.0005,"err":0.0003},{"t":2615.342,"oc":0.0009,"err":0.0003},
      {"t":2615.440,"oc":0.0055,"err":0.0040},{"t":2615.539,"oc":0.0004,"err":0.0008},{"t":2615.640,"oc":-0.0007,"err":0.0003},
      {"t":2615.745,"oc":0.0024,"err":0.0027},{"t":2615.843,"oc":0.0029,"err":0.0003},{"t":2615.945,"oc":-0.0043,"err":0.0003},
      {"t":2616.044,"oc":-0.0046,"err":0.0003},{"t":2616.142,"oc":0.0006,"err":0.0003},{"t":2616.243,"oc":0.0004,"err":0.0003},
      {"t":2616.344,"oc":-0.0049,"err":0.0003},{"t":2616.443,"oc":-0.0011,"err":0.0003},{"t":2616.545,"oc":0.0008,"err":0.0035},
      {"t":2616.643,"oc":-0.0023,"err":0.0003},{"t":2616.744,"oc":-0.0013,"err":0.0013},{"t":2616.843,"oc":-0.0008,"err":0.0012},
      {"t":2616.944,"oc":-0.0025,"err":0.0027},{"t":2617.043,"oc":-0.0063,"err":0.0003},{"t":2617.144,"oc":-0.0046,"err":0.0003},
      {"t":2617.246,"oc":-0.0001,"err":0.0003},{"t":2617.344,"oc":-0.0003,"err":0.0003},{"t":2617.445,"oc":-0.0034,"err":0.0003},
      {"t":2617.544,"oc":-0.0043,"err":0.0029},{"t":2617.643,"oc":0.0002,"err":0.0003},{"t":2617.744,"oc":-0.0043,"err":0.0014},
      {"t":2617.843,"oc":0.0024,"err":0.0026},{"t":2617.944,"oc":-0.0028,"err":0.0003},{"t":2618.043,"oc":0.0024,"err":0.0003},
      {"t":2618.141,"oc":0.0000,"err":0.0033},{"t":2618.242,"oc":-0.0073,"err":0.0003},{"t":2618.341,"oc":-0.0062,"err":0.0003},
      {"t":2618.443,"oc":-0.0085,"err":0.0003},{"t":2618.541,"oc":-0.0062,"err":0.0003},{"t":2618.643,"oc":0.0012,"err":0.0011},
      {"t":2618.741,"oc":-0.0004,"err":0.0019},{"t":2618.842,"oc":-0.0022,"err":0.0003},{"t":2618.944,"oc":-0.0060,"err":0.0026},
      {"t":2619.043,"oc":0.0083,"err":0.0046},{"t":2619.144,"oc":0.0017,"err":0.0003},{"t":2619.245,"oc":0.0035,"err":0.0083},
      {"t":2619.343,"oc":-0.0023,"err":0.0061},{"t":2619.442,"oc":-0.0081,"err":0.0055},{"t":2619.544,"oc":-0.0050,"err":0.0003},
      {"t":2619.642,"oc":0.0051,"err":0.0110},{"t":2619.744,"oc":-0.0029,"err":0.0003},{"t":2619.842,"oc":-0.0046,"err":0.0062},
      {"t":2619.943,"oc":-0.0077,"err":0.0003},{"t":2620.042,"oc":-0.0099,"err":0.0028},{"t":2620.144,"oc":-0.0055,"err":0.0003}
    ],
    "trend": [
      {"t":2615.04,"v":0.0012},{"t":2615.30,"v":0.0013},{"t":2615.64,"v":0.0016},{"t":2615.90,"v":0.0008},
      {"t":2616.20,"v":-0.0003},{"t":2616.50,"v":-0.0011},{"t":2616.80,"v":-0.0018},{"t":2617.10,"v":-0.0023},
      {"t":2617.40,"v":-0.0025},{"t":2617.70,"v":-0.0026},{"t":2618.00,"v":-0.0024},{"t":2618.30,"v":-0.0019},
      {"t":2618.60,"v":-0.0013},{"t":2618.90,"v":-0.0003},{"t":2619.16,"v":0.0008},{"t":2619.75,"v":-0.0037},
      {"t":2620.33,"v":-0.0084}
    ]
  },
  "vconcat": [
    {
      "width": 1095,
      "height": 138,
      "layer": [
        {
          "data": {"name": "lc"},
          "mark": {"type": "line", "color": "black", "strokeWidth": 1.2},
          "encoding": {
            "x": {"field": "t", "type": "quantitative", "scale": {"domain": [2613, 2622], "nice": false, "zero": false},
              "axis": {"title": null, "values": [2613, 2614, 2615, 2616, 2617, 2618, 2619, 2620, 2621, 2622], "format": "d"}},
            "y": {"field": "m", "type": "quantitative", "scale": {"domain": [-2.184, 0.998], "reverse": true, "nice": false, "zero": false},
              "axis": {"title": "Magnitude", "values": [-2, 0], "format": "d"}}
          }
        },
        {
          "data": {"name": "fit"},
          "mark": {"type": "line", "color": "#ff0000", "strokeWidth": 2},
          "encoding": {"x": {"field": "t", "type": "quantitative"}, "y": {"field": "m", "type": "quantitative", "title": "Magnitude"}}
        },
        {
          "data": {"name": "stages"},
          "mark": {"type": "rule", "color": "#0000ff", "strokeWidth": 2, "strokeDash": [6, 3]},
          "encoding": {"x": {"field": "t", "type": "quantitative"}}
        },
        {
          "data": {"name": "stageLabels"},
          "mark": {"type": "text", "font": "Liberation Serif", "fontSize": 18, "color": "black", "align": "center", "baseline": "alphabetic"},
          "encoding": {"x": {"field": "t", "type": "quantitative"}, "y": {"datum": -2.237}, "text": {"field": "stage"}}
        },
        {
          "data": {"values": []},
          "mark": {"type": "point", "filled": true, "size": 400, "opacity": 1},
          "encoding": {
            "color": {"field": "s", "type": "nominal",
              "scale": {"domain": ["Original Light Curve", "LOWESS fit"], "range": ["black", "#ff0000"]},
              "legend": {"legendX": 437.7, "legendY": 72.7}},
            "shape": {"field": "s", "type": "nominal",
              "scale": {"domain": ["Original Light Curve", "LOWESS fit"], "range": ["M-1.9,-0.1H1.9V0.1H-1.9Z", "M-1.9,-0.1H1.9V0.1H-1.9Z"]},
              "legend": {"legendX": 437.7, "legendY": 72.7}}
          }
        }
      ]
    },
    {
      "width": 1095,
      "height": 139,
      "layer": [
        {
          "data": {"name": "det"},
          "mark": {"type": "circle", "color": "black", "size": 5.5, "opacity": 1},
          "encoding": {
            "x": {"field": "t", "type": "quantitative", "scale": {"domain": [2613, 2622], "nice": false, "zero": false},
              "axis": {"title": null, "values": [2613, 2614, 2615, 2616, 2617, 2618, 2619, 2620, 2621, 2622], "format": "d"}},
            "y": {"field": "d", "type": "quantitative", "scale": {"domain": [-0.209, 0.312], "nice": false, "zero": false},
              "axis": {"title": "Detrended curve", "values": [-0.2, 0, 0.2], "format": ".1f"}}
          }
        },
        {
          "data": {"name": "zero"},
          "mark": {"type": "rule", "color": "#ff0000", "strokeWidth": 2},
          "encoding": {"x": {"field": "t0", "type": "quantitative"}, "x2": {"field": "t1"}, "y": {"field": "d", "type": "quantitative", "title": "Detrended curve"}}
        },
        {
          "data": {"name": "stages"},
          "mark": {"type": "rule", "color": "#0000ff", "strokeWidth": 2, "strokeDash": [6, 3]},
          "encoding": {"x": {"field": "t", "type": "quantitative"}}
        },
        {
          "data": {"values": []},
          "mark": {"type": "point", "filled": true, "size": 400, "opacity": 1},
          "encoding": {
            "color": {"field": "s", "type": "nominal",
              "scale": {"domain": ["Amplitudes variation of Superhumps", "Zeroth line"], "range": ["black", "#ff0000"]},
              "legend": {"legendX": 378.7, "legendY": 9}},
            "shape": {"field": "s", "type": "nominal",
              "scale": {"domain": ["Amplitudes variation of Superhumps", "Zeroth line"],
                "range": ["M-0.12,0A0.12,0.12 0 1,1 0.12,0A0.12,0.12 0 1,1 -0.12,0Z", "M-1.9,-0.1H1.9V0.1H-1.9Z"]},
              "legend": {"legendX": 378.7, "legendY": 9}}
          }
        }
      ]
    },
    {
      "width": 1095,
      "height": 139,
      "layer": [
        {
          "data": {"name": "trend"},
          "mark": {"type": "line", "color": "#ff0000", "strokeWidth": 2, "strokeDash": [7, 4]},
          "encoding": {
            "x": {"field": "t", "type": "quantitative", "scale": {"domain": [2613, 2622], "nice": false, "zero": false},
              "axis": {"title": "Days (BJD 2 457 000+)", "values": [2613, 2614, 2615, 2616, 2617, 2618, 2619, 2620, 2621, 2622], "format": "d"}},
            "y": {"field": "v", "type": "quantitative", "scale": {"domain": [-0.01502, 0.0176], "nice": false, "zero": false},
              "axis": {"title": "O-C values", "values": [-0.01, 0, 0.01], "format": ".2f"}}
          }
        },
        {
          "data": {"name": "oc"},
          "mark": {"type": "errorbar", "color": "black", "rule": {"strokeWidth": 2}},
          "encoding": {"x": {"field": "t", "type": "quantitative", "title": "Days (BJD 2 457 000+)"}, "y": {"field": "oc", "type": "quantitative", "title": "O-C values"}, "yError": {"field": "err"}}
        },
        {
          "data": {"name": "oc"},
          "mark": {"type": "circle", "color": "black", "size": 30, "opacity": 1},
          "encoding": {"x": {"field": "t", "type": "quantitative", "title": "Days (BJD 2 457 000+)"}, "y": {"field": "oc", "type": "quantitative", "title": "O-C values"}}
        },
        {
          "data": {"name": "stages"},
          "mark": {"type": "rule", "color": "#0000ff", "strokeWidth": 2, "strokeDash": [6, 3]},
          "encoding": {"x": {"field": "t", "type": "quantitative", "title": "Days (BJD 2 457 000+)"}}
        },
        {
          "data": {"values": []},
          "mark": {"type": "point", "filled": true, "size": 400, "opacity": 1},
          "encoding": {
            "color": {"field": "s", "type": "nominal",
              "scale": {"domain": ["Superhumps period variation trend", "O - C"], "range": ["#ff0000", "black"]},
              "legend": {"legendX": 767.4, "legendY": 9}},
            "shape": {"field": "s", "type": "nominal",
              "scale": {"domain": ["Superhumps period variation trend", "O - C"],
                "range": ["M-1.8,-0.1H-0.9V0.1H-1.8Z M-0.45,-0.1H0.45V0.1H-0.45Z M0.9,-0.1H1.8V0.1H0.9Z",
                  "M-0.1,-0.9H0.1V0.9H-0.1Z M-0.35,0A0.35,0.35 0 1,1 0.35,0A0.35,0.35 0 1,1 -0.35,0Z"]},
              "legend": {"legendX": 767.4, "legendY": 9}}
          }
        }
      ]
    }
  ]
}
